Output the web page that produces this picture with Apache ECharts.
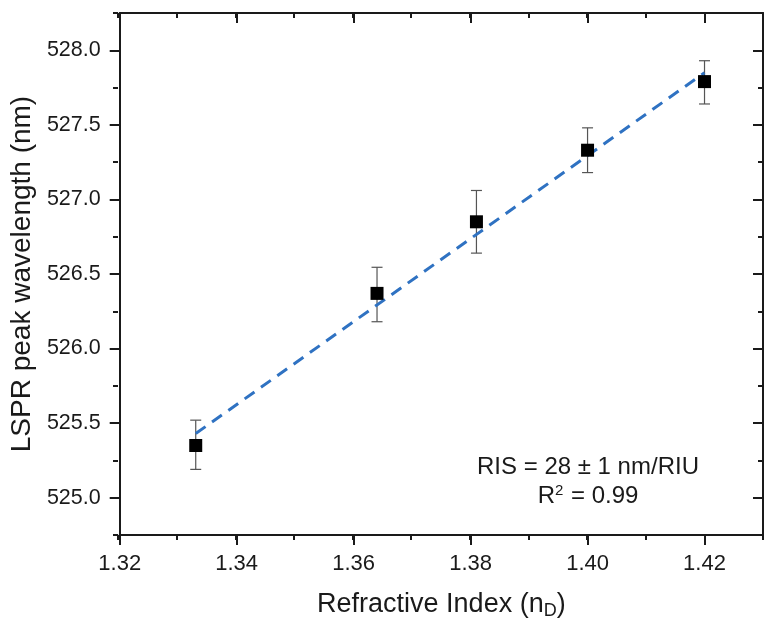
<!DOCTYPE html>
<html>
<head>
<meta charset="utf-8">
<script src="https://cdn.jsdelivr.net/npm/echarts@6/dist/echarts.min.js"></script>
<style>
  html, body { margin: 0; padding: 0; background: #fff; }
  #chart { width: 775px; height: 628px; }
</style>
</head>
<body>
<div id="chart"></div>
<script>
// refractive index of each medium
const xValues = [1.333, 1.364, 1.381, 1.400, 1.420];
// LSPR peak (nm) and the ends of the error bars
const yValues = [525.35, 526.37, 526.85, 527.33, 527.79];
const yUpper = [525.52, 526.545, 527.06, 527.48, 527.93];
const yLower = [525.19, 526.18, 526.64, 527.18, 527.64];
// linear fit, end points as drawn
const fitX = [1.333, 1.42];
const fitY = [525.43, 527.85];
// tick labels
const xTicks = [1.32, 1.34, 1.36, 1.38, 1.40, 1.42];
const yTicks = [525.0, 525.5, 526.0, 526.5, 527.0, 527.5, 528.0];

const font = 'Liberation Sans, Arial, sans-serif';
const ink = '#1a1a1a';
const grid = { left: 118, right: 12, top: 13, bottom: 93 };

const chart = echarts.init(document.getElementById('chart'));

const line = { show: true, lineStyle: { color: ink, width: 2 } };

chart.setOption({
  animation: false,
  grid: [grid, grid],
  xAxis: [
    {
      type: 'value', gridIndex: 0, position: 'bottom', min: 1.32, max: 1.43,
      axisLine: line,
      axisTick: { customValues: xTicks, length: 10, lineStyle: { color: ink, width: 2 } },
      axisLabel: {
        customValues: xTicks, margin: 18, color: ink, fontSize: 22, fontFamily: font,
        formatter: v => v.toFixed(2)
      },
      splitLine: { show: false },
      name: 'Refractive Index (n{sub|D})', nameLocation: 'middle', nameGap: 54,
      nameTextStyle: {
        color: ink, fontSize: 27, fontFamily: font,
        rich: { sub: { fontSize: 18, fontFamily: font, color: ink, verticalAlign: 'bottom', padding: [13, 0, 0, 0] } }
      }
    },
    {
      type: 'value', gridIndex: 0, position: 'top', min: 1.32, max: 1.43,
      axisLine: line,
      axisTick: { customValues: xTicks, inside: true, length: 10, lineStyle: { color: ink, width: 2 } },
      axisLabel: { show: false },
      splitLine: { show: false }
    },
    {
      type: 'value', gridIndex: 1, position: 'bottom', min: 1.32, max: 1.43, interval: 0.01,
      axisLine: { show: false },
      axisTick: { length: 5, lineStyle: { color: ink, width: 2 } },
      axisLabel: { show: false },
      splitLine: { show: false }
    },
    {
      type: 'value', gridIndex: 1, position: 'top', min: 1.32, max: 1.43, interval: 0.01,
      axisLine: { show: false },
      axisTick: { inside: true, length: 5, lineStyle: { color: ink, width: 2 } },
      axisLabel: { show: false },
      splitLine: { show: false }
    }
  ],
  yAxis: [
    {
      type: 'value', gridIndex: 0, position: 'left', min: 524.75, max: 528.25,
      axisLine: line,
      axisTick: { customValues: yTicks, length: 10, lineStyle: { color: ink, width: 2 } },
      axisLabel: {
        customValues: yTicks, margin: 19, color: ink, fontSize: 21.5, fontFamily: font,
        formatter: v => v.toFixed(1)
      },
      splitLine: { show: false },
      name: 'LSPR peak wavelength (nm)', nameLocation: 'middle', nameGap: 83,
      nameTextStyle: { color: ink, fontSize: 28, fontFamily: font }
    },
    {
      type: 'value', gridIndex: 0, position: 'right', min: 524.75, max: 528.25,
      axisLine: line,
      axisTick: { customValues: yTicks, inside: true, length: 10, lineStyle: { color: ink, width: 2 } },
      axisLabel: { show: false },
      splitLine: { show: false }
    },
    {
      type: 'value', gridIndex: 1, position: 'left', min: 524.75, max: 528.25, interval: 0.25,
      axisLine: { show: false },
      axisTick: { length: 5, lineStyle: { color: ink, width: 2 } },
      axisLabel: { show: false },
      splitLine: { show: false }
    },
    {
      type: 'value', gridIndex: 1, position: 'right', min: 524.75, max: 528.25, interval: 0.25,
      axisLine: { show: false },
      axisTick: { inside: true, length: 5, lineStyle: { color: ink, width: 2 } },
      axisLabel: { show: false },
      splitLine: { show: false }
    }
  ],
  series: [
    {
      name: 'error',
      type: 'custom',
      xAxisIndex: 0, yAxisIndex: 0,
      data: xValues.map((x, i) => [x, yLower[i], yUpper[i]]),
      renderItem: (params, api) => {
        const lo = api.coord([api.value(0), api.value(1)]);
        const hi = api.coord([api.value(0), api.value(2)]);
        const cap = 5.5;
        const style = { stroke: '#555', lineWidth: 1.2 };
        return {
          type: 'group',
          children: [
            { type: 'line', shape: { x1: lo[0], y1: lo[1], x2: hi[0], y2: hi[1] }, style },
            { type: 'line', shape: { x1: lo[0] - cap, y1: lo[1], x2: lo[0] + cap, y2: lo[1] }, style },
            { type: 'line', shape: { x1: hi[0] - cap, y1: hi[1], x2: hi[0] + cap, y2: hi[1] }, style }
          ]
        };
      },
      z: 2
    },
    {
      name: 'fit',
      type: 'line',
      xAxisIndex: 0, yAxisIndex: 0,
      data: fitX.map((x, i) => [x, fitY[i]]),
      showSymbol: false,
      lineStyle: { color: '#2f72c2', width: 3, type: [12, 8] },
      z: 3
    },
    {
      name: 'LSPR',
      type: 'scatter',
      xAxisIndex: 0, yAxisIndex: 0,
      data: xValues.map((x, i) => [x, yValues[i]]),
      symbol: 'rect',
      symbolSize: 13,
      itemStyle: { color: '#000', opacity: 1 },
      z: 4
    }
  ],
  graphic: [
    {
      type: 'text', x: 588, y: 467,
      style: {
        text: 'RIS = 28 ± 1 nm/RIU', font: '24px ' + font, fill: ink,
        textAlign: 'center', textVerticalAlign: 'middle'
      }
    },
    {
      type: 'text', x: 588, y: 496,
      style: {
        text: 'R{sup|2} = 0.99', font: '24px ' + font, fill: ink,
        textAlign: 'center', textVerticalAlign: 'middle',
        rich: { sup: { fontSize: 15, fontFamily: font, fill: ink, padding: [0, 1, 10, 0] } }
      }
    }
  ]
});
</script>
</body>
</html>
